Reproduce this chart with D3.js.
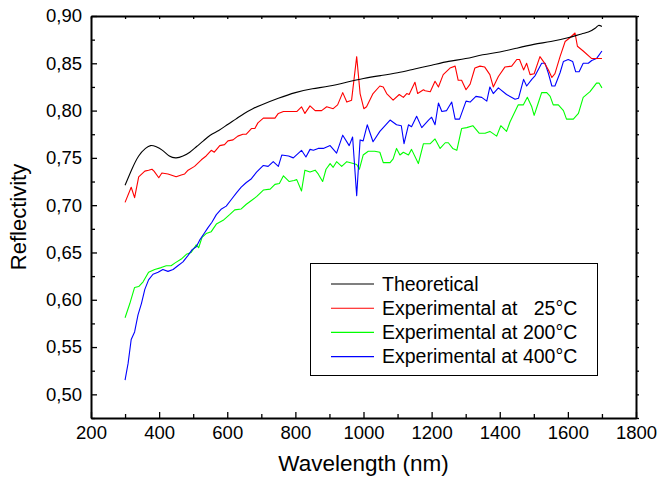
<!DOCTYPE html>
<html>
<head>
<meta charset="utf-8">
<script src="https://cdn.jsdelivr.net/npm/d3@7"></script>
<style>
  body { margin: 0; background: #fff; }
  svg { display: block; font-family: Arial, "Liberation Sans", sans-serif; }
</style>
</head>
<body>
<div id="chart"></div>
<script>
// wavelength (nm), reflectivity pairs
const theoretical = [
  [300,0.721],[320,0.738],[340,0.752],[360,0.760],[375,0.763],[390,0.762],[410,0.758],[430,0.752],
  [450,0.750],[470,0.752],[490,0.756],[510,0.762],[530,0.768],[550,0.774],[575,0.779],[600,0.785],
  [625,0.791],[650,0.797],[675,0.802],[700,0.806],[750,0.813],[800,0.819],[850,0.823],[900,0.826],
  [950,0.830],[1000,0.834],[1050,0.837],[1100,0.840],[1150,0.844],[1200,0.848],[1250,0.852],
  [1300,0.855],[1350,0.859],[1400,0.862],[1450,0.866],[1500,0.870],[1550,0.873],[1600,0.877],
  [1640,0.881],[1660,0.883],[1680,0.887],[1690,0.890],[1700,0.889]
];

const exp25 = [
  [300,0.703],[318,0.719],[328,0.708],[340,0.730],[358,0.736],[369,0.737],[379,0.738],[385,0.736],
  [399,0.729],[408,0.734],[426,0.733],[450,0.730],[465,0.732],[475,0.733],[485,0.737],[504,0.741],
  [524,0.748],[538,0.752],[553,0.758],[562,0.756],[578,0.763],[592,0.764],[602,0.768],[617,0.769],
  [631,0.773],[646,0.775],[656,0.775],[671,0.781],[681,0.781],[690,0.787],[706,0.792],[740,0.792],
  [750,0.797],[765,0.799],[804,0.799],[818,0.804],[828,0.797],[843,0.805],[858,0.800],[877,0.800],
  [892,0.804],[911,0.802],[924,0.806],[939,0.819],[951,0.809],[965,0.811],[980,0.857],[990,0.818],
  [1001,0.802],[1009,0.804],[1028,0.818],[1048,0.826],[1058,0.825],[1068,0.818],[1087,0.811],
  [1105,0.817],[1117,0.814],[1127,0.818],[1134,0.817],[1151,0.830],[1159,0.818],[1176,0.822],
  [1181,0.821],[1196,0.820],[1210,0.831],[1220,0.825],[1234,0.838],[1254,0.845],[1269,0.847],
  [1278,0.832],[1288,0.832],[1301,0.822],[1313,0.828],[1327,0.845],[1342,0.847],[1356,0.846],
  [1371,0.838],[1381,0.825],[1396,0.836],[1415,0.846],[1435,0.847],[1450,0.854],[1458,0.854],
  [1470,0.843],[1479,0.850],[1489,0.838],[1501,0.839],[1518,0.857],[1530,0.851],[1543,0.843],
  [1553,0.835],[1562,0.839],[1577,0.857],[1592,0.873],[1606,0.877],[1621,0.882],[1628,0.868],
  [1645,0.863],[1670,0.855],[1684,0.855],[1700,0.855]
];

const exp200 = [
  [300,0.581],[314,0.596],[328,0.613],[340,0.614],[353,0.619],[369,0.629],[387,0.632],[406,0.634],
  [421,0.636],[435,0.636],[447,0.639],[465,0.643],[480,0.648],[494,0.650],[509,0.658],[516,0.655],
  [526,0.666],[538,0.670],[553,0.672],[568,0.680],[588,0.684],[607,0.690],[622,0.695],[641,0.696],
  [656,0.701],[671,0.705],[686,0.709],[706,0.716],[726,0.717],[740,0.722],[753,0.723],[765,0.731],
  [782,0.725],[796,0.726],[804,0.727],[818,0.715],[828,0.737],[843,0.735],[858,0.737],[867,0.733],
  [880,0.725],[890,0.738],[902,0.744],[911,0.740],[921,0.746],[936,0.741],[951,0.746],[970,0.744],
  [980,0.743],[988,0.738],[999,0.753],[1014,0.757],[1033,0.757],[1048,0.756],[1058,0.745],
  [1078,0.745],[1087,0.749],[1097,0.760],[1107,0.753],[1117,0.756],[1132,0.753],[1141,0.759],
  [1161,0.744],[1176,0.765],[1196,0.765],[1210,0.770],[1225,0.760],[1240,0.766],[1249,0.766],
  [1262,0.760],[1274,0.758],[1288,0.781],[1303,0.782],[1321,0.784],[1340,0.776],[1357,0.776],
  [1371,0.778],[1391,0.773],[1403,0.784],[1420,0.778],[1430,0.788],[1454,0.806],[1469,0.806],
  [1481,0.814],[1494,0.804],[1501,0.795],[1513,0.808],[1523,0.819],[1538,0.819],[1548,0.815],
  [1557,0.806],[1572,0.806],[1587,0.800],[1596,0.791],[1616,0.791],[1631,0.797],[1645,0.814],
  [1665,0.820],[1684,0.829],[1692,0.829],[1700,0.824]
];

const exp400 = [
  [300,0.515],[309,0.533],[318,0.558],[328,0.566],[338,0.584],[348,0.596],[358,0.611],[369,0.621],
  [382,0.627],[397,0.629],[411,0.632],[426,0.630],[441,0.632],[455,0.636],[470,0.640],[485,0.647],
  [497,0.653],[509,0.656],[519,0.663],[532,0.670],[543,0.676],[555,0.682],[568,0.690],[583,0.696],
  [597,0.699],[612,0.706],[627,0.713],[641,0.719],[656,0.724],[671,0.728],[686,0.735],[706,0.742],
  [720,0.741],[735,0.746],[750,0.741],[760,0.753],[780,0.752],[794,0.750],[818,0.758],[831,0.751],
  [843,0.759],[853,0.758],[867,0.760],[882,0.760],[902,0.763],[921,0.755],[939,0.774],[958,0.763],
  [968,0.772],[980,0.710],[990,0.769],[999,0.768],[1011,0.785],[1028,0.767],[1048,0.778],
  [1078,0.790],[1097,0.785],[1111,0.784],[1119,0.765],[1132,0.785],[1141,0.783],[1156,0.794],
  [1171,0.782],[1191,0.790],[1200,0.793],[1210,0.785],[1220,0.808],[1230,0.799],[1244,0.800],
  [1259,0.809],[1269,0.791],[1282,0.791],[1301,0.810],[1313,0.809],[1330,0.815],[1347,0.814],
  [1362,0.810],[1371,0.825],[1381,0.818],[1396,0.824],[1420,0.817],[1445,0.812],[1455,0.813],
  [1470,0.833],[1479,0.826],[1494,0.833],[1504,0.837],[1523,0.850],[1533,0.850],[1543,0.839],
  [1553,0.826],[1562,0.826],[1577,0.840],[1587,0.852],[1601,0.854],[1614,0.852],[1623,0.841],
  [1633,0.841],[1645,0.850],[1660,0.850],[1670,0.853],[1684,0.855],[1700,0.863]
];

const xMajor = [200, 400, 600, 800, 1000, 1200, 1400, 1600, 1800];
const xMinor = [300, 500, 700, 900, 1100, 1300, 1500, 1700];
const yMajor = [0.50, 0.55, 0.60, 0.65, 0.70, 0.75, 0.80, 0.85, 0.90];
const yMinor = [0.475, 0.525, 0.575, 0.625, 0.675, 0.725, 0.775, 0.825, 0.875];

const seriesNames = ["Theoretical", "Experimental at   25\u00b0C", "Experimental at 200\u00b0C", "Experimental at 400\u00b0C"];
const seriesColors = ["#000000", "#ff0000", "#00ff00", "#0000ff"];

function drawChart() {
  const width = 661, height = 477;
  const margin = { top: 16, right: 25, bottom: 59, left: 91 };

  const x = d3.scaleLinear()
    .domain([200, 1800])
    .range([margin.left, width - margin.right]);

  const y = d3.scaleLinear()
    .domain([0.475, 0.90])
    .range([height - margin.bottom, margin.top]);

  const svg = d3.select("#chart")
    .append("svg")
    .attr("width", width)
    .attr("height", height);

  const fmt = d => d3.format(".2f")(d).replace(".", ",");

  // curves
  const line = d3.line().x(d => x(d[0])).y(d => y(d[1]));
  const allSeries = [theoretical, exp25, exp200, exp400];
  [exp200, exp400, exp25, theoretical].forEach(s => {
    const i = allSeries.indexOf(s);
    svg.append("path")
      .datum(s)
      .attr("fill", "none")
      .attr("stroke", seriesColors[i])
      .attr("stroke-width", 1.1)
      .attr("stroke-linejoin", "round")
      .attr("d", i === 0 ? line.curve(d3.curveNatural)(s) : line.curve(d3.curveLinear)(s));
  });

  // bottom axis
  svg.append("g")
    .attr("transform", `translate(0,${y(0.475)})`)
    .call(d3.axisBottom(x).tickValues(xMinor).tickSize(-4).tickFormat(""))
    .call(g => g.select(".domain").remove());
  svg.append("g")
    .attr("transform", `translate(0,${y(0.475)})`)
    .call(d3.axisBottom(x).tickValues(xMajor).tickSize(-6).tickPadding(8).tickSizeOuter(0).tickFormat(d3.format("d")))
    .call(g => g.selectAll("text").style("font-size", "18.5px").attr("fill", "#000"));

  // top axis
  svg.append("g")
    .attr("transform", `translate(0,${y(0.90)})`)
    .call(d3.axisTop(x).tickValues(xMajor.concat(xMinor)).tickSize(-3).tickFormat("").tickSizeOuter(0));

  // left axis
  svg.append("g")
    .attr("transform", `translate(${x(200)},0)`)
    .call(d3.axisLeft(y).tickValues(yMinor).tickSize(-4).tickFormat(""))
    .call(g => g.select(".domain").remove());
  svg.append("g")
    .attr("transform", `translate(${x(200)},0)`)
    .call(d3.axisLeft(y).tickValues(yMajor).tickSize(-6).tickPadding(9).tickSizeOuter(0).tickFormat(fmt))
    .call(g => g.selectAll("text").style("font-size", "18.5px").attr("fill", "#000"));

  // right axis
  svg.append("g")
    .attr("transform", `translate(${x(1800)},0)`)
    .call(d3.axisRight(y).tickValues(yMajor.concat(yMinor)).tickSize(3).tickFormat("").tickSizeOuter(0));

  svg.selectAll(".domain").attr("stroke-width", 2);
  svg.selectAll(".tick line").attr("stroke-width", 1.3);

  // axis titles
  svg.append("text")
    .attr("x", (x(200) + x(1800)) / 2)
    .attr("y", 471)
    .attr("text-anchor", "middle")
    .style("font-size", "22.5px")
    .text("Wavelength (nm)");

  svg.append("text")
    .attr("transform", `translate(26,${(y(0.475) + y(0.90)) / 2}) rotate(-90)`)
    .attr("text-anchor", "middle")
    .style("font-size", "22px")
    .text("Reflectivity");

  // legend
  const legend = svg.append("g");
  legend.append("rect")
    .attr("x", 310.5).attr("y", 263.5)
    .attr("width", 287).attr("height", 112)
    .attr("fill", "#fff").attr("stroke", "#000").attr("stroke-width", 1);

  seriesNames.forEach((name, i) => {
    const ly = 284 + i * 24.2;
    legend.append("line")
      .attr("x1", 331).attr("x2", 374)
      .attr("y1", ly).attr("y2", ly)
      .attr("stroke", seriesColors[i]).attr("stroke-width", 1.1);
    legend.append("text")
      .attr("x", 382).attr("y", ly)
      .attr("dy", "0.35em")
      .style("font-size", "19.5px")
      .style("white-space", "pre")
      .text(name);
  });
}

drawChart();
</script>
</body>
</html>
